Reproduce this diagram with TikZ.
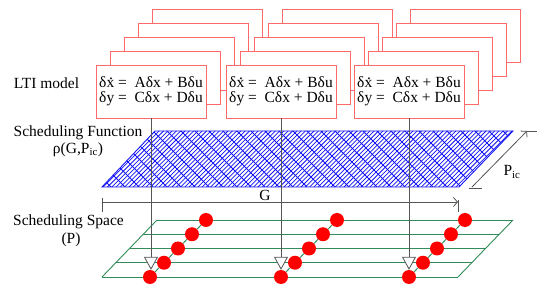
\documentclass[tikz,border=0pt]{standalone}
\usepackage{fontspec}
\setmainfont{Liberation Serif}
\usetikzlibrary{arrows.meta}
\definecolor{boxred}{RGB}{255,105,105}
\definecolor{hatchblue}{RGB}{20,20,245}
\definecolor{gridgreen}{RGB}{50,140,90}
\definecolor{dimgray}{RGB}{85,85,85}
\newcommand{\xdt}{x\kern-0.33em\raisebox{0.5em}{.}\kern0.08em}
\begin{document}
\begin{tikzpicture}[x=1pt,y=-1pt,
  lbl/.style={font=\rmfamily\fontsize{15.5}{16}\selectfont, inner sep=0pt, align=center},
  backbox/.style={draw=boxred, fill=white, line width=0.9pt},
  frontbox/.style={draw=boxred, fill=white, line width=0.9pt, minimum width=110pt, minimum height=53pt, inner xsep=0pt, inner ysep=0pt, align=left, font=\rmfamily\fontsize{15.5}{15}\selectfont},
  hatchline/.style={hatchblue, line width=0.75pt},
  dimline/.style={dimgray, line width=0.8pt},
  gridline/.style={gridgreen, line width=0.9pt},
  reddot/.style={circle, fill=red, inner sep=0pt, minimum size=14pt},
  downtip/.style={dimline, -{Triangle[length=13pt, width=14pt, fill=white]}},
  dimtip/.style={dimline, -{Straight Barb[length=4pt, width=9pt]}}]
\useasboundingbox (0,0) rectangle (550,299);

% stacked back boxes
\foreach \L in {4,3,2,1}{
  \foreach \bx in {96,226,354}{
    \draw[backbox] (\bx+14*\L, 65-14*\L) rectangle ++(110,53);
  }
}
% front boxes
\node[frontbox] (b1) at (151,91.5) {δ\xdt{} =\ \ Aδx + Bδu\\δy =\ \ Cδx + Dδu};
\node[frontbox] (b2) at (281,91.5) {δ\xdt{} =\ \ Aδx + Bδu\\δy =\ \ Cδx + Dδu};
\node[frontbox] (b3) at (409,91.5) {δ\xdt{} =\ \ Aδx + Bδu\\δy =\ \ Cδx + Dδu};

% hatched scheduling function
\begin{scope}
  \clip (102,187) -- (459,187) -- (513,131) -- (155,131) -- cycle;
  \foreach \a in {40,44.3,...,520} \draw[hatchline] (\a,190) -- (\a+60,130);
  \foreach \a in {40,54,...,530} \draw[hatchline] (\a,130) -- (\a+60,190);
\end{scope}
\draw[hatchblue, line width=0.9pt] (102,187) -- (459,187) -- (513,131) -- (155,131) -- cycle;

% G dimension
\coordinate (g1) at (102,202);
\coordinate (g2) at (458,202);
\draw[dimline] (102,198) -- (102,212);
\draw[dimline] (458,200) -- (458,212);
\draw[dimtip] (g1) -- (g2);
\node[lbl] (G) at (265,195) {G};

% P_ic dimension
\coordinate (p1) at (472,187);
\coordinate (p2) at (527,131);
\draw[dimline] (469,188) -- (482,188);
\draw[dimline] (527,131) -- (537,131);
\draw[dimtip] (p1) -- (p2);
\node[lbl] (Pic) at (512,172) {P\textsubscript{ic}};

% scheduling space grid
\foreach \k in {0,...,4}
  \draw[gridline] (102+13.75*\k, 277-14.25*\k) -- (458+13.75*\k, 277-14.25*\k);
\draw[gridline] (102,277) -- (157,220);
\draw[gridline] (458,277) -- (513,220);

% red operating points
\foreach \s/\cx in {1/150,2/281,3/409}{
  \foreach \k in {0,...,4}
    \node[reddot] (d\s\k) at (\cx+14*\k, 277-14.25*\k) {};
  \draw[gridline] (d\s0) -- (d\s1) -- (d\s2) -- (d\s3) -- (d\s4);
}

% connectors from models to operating points
\draw[downtip] (b1.south) -- (b1.south |- d10.north);
\draw[downtip] (b2.south) -- (d20.north);
\draw[downtip] (b3.south) -- (d30.north);

% labels
\node[lbl] (lti) at (46.5,83) {LTI model};
\node[lbl] (sf) at (78,133) {Scheduling Function};
\node[lbl] (rho) at (78,150) {ρ(G,P\textsubscript{ic})};
\node[lbl] (ss) at (68.5,222) {Scheduling Space};
\node[lbl] (pp) at (71,240) {(P)};
\end{tikzpicture}
\end{document}
